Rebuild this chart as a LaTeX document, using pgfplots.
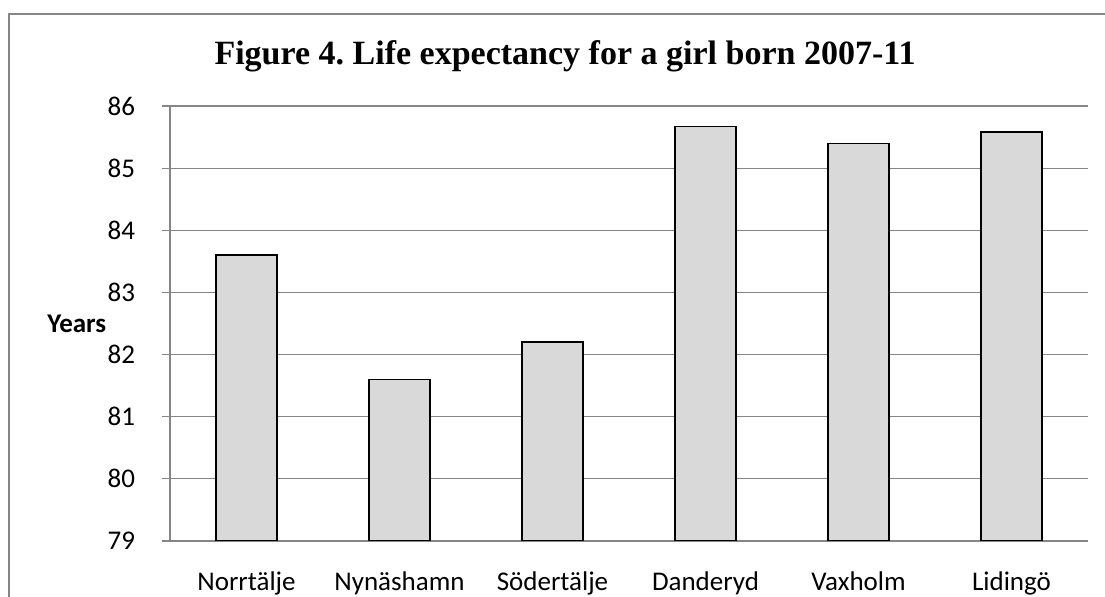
\documentclass[border=0pt]{standalone}
\usepackage{pgfplots}
\pgfplotsset{compat=1.18}
\usepackage{fontspec}
\setmainfont{Carlito}
\newfontfamily\titlefont{Liberation Serif}
\definecolor{gridgray}{RGB}{134,134,134}
\definecolor{barfill}{RGB}{217,217,217}
\frenchspacing

\begin{document}
\begin{tikzpicture}
\useasboundingbox (0,0) rectangle (552.5pt,298.5pt);
\draw[gridgray, line width=0.7pt] (4.5pt,-2pt) -- (4.5pt,291.5pt) -- (555pt,291.5pt);
\begin{axis}[
    at={(85pt,28pt)}, anchor=south west,
    scale only axis, width=459pt, height=217.5pt,
    ybar, bar width=0.4,
    xmin=0.5, xmax=6.5, ymin=79, ymax=86,
    xtick={1,2,3,4,5,6},
    xticklabels={Norrtälje,Nynäshamn,Södertälje,Danderyd,Vaxholm,Lidingö},
    x tick style={draw=none},
    extra x ticks={0.5,1.5,2.5,3.5,4.5,5.5,6.5},
    extra x tick labels={},
    extra x tick style={tick style={draw=gridgray, line width=0.6pt}, major tick length=3.8pt, tick align=outside},
    ytick={79,...,86},
    ymajorgrids, grid style={gridgray, line width=0.6pt},
    y tick style={gridgray, line width=0.6pt}, major tick length=4pt, tick align=outside,
    axis x line*=bottom, axis y line*=left,
    axis line style={gridgray, line width=0.6pt, -},
    ticklabel style={font=\fontsize{13.5}{16}\selectfont, inner sep=0pt},
    /pgf/number format/assume math mode=true,
    yticklabel style={anchor=east, xshift=-13.3pt},
    xticklabel style={anchor=base, yshift=-20.8pt},
]
\addplot[fill=barfill, draw=black, line width=0.7pt] coordinates {
  (1,83.6) (2,81.6) (3,82.2) (4,85.67) (5,85.4) (6,85.58)};
\end{axis}
\node[anchor=base, inner sep=0pt, font=\titlefont\bfseries\fontsize{17}{20}\selectfont] at (282.5pt,266pt) {Figure 4. Life expectancy for a girl born 2007-11};
\node[anchor=base west, inner sep=0pt, font=\bfseries\fontsize{13.5}{16}\selectfont] at (23.5pt,132pt) {Years};
\end{tikzpicture}
\end{document}
